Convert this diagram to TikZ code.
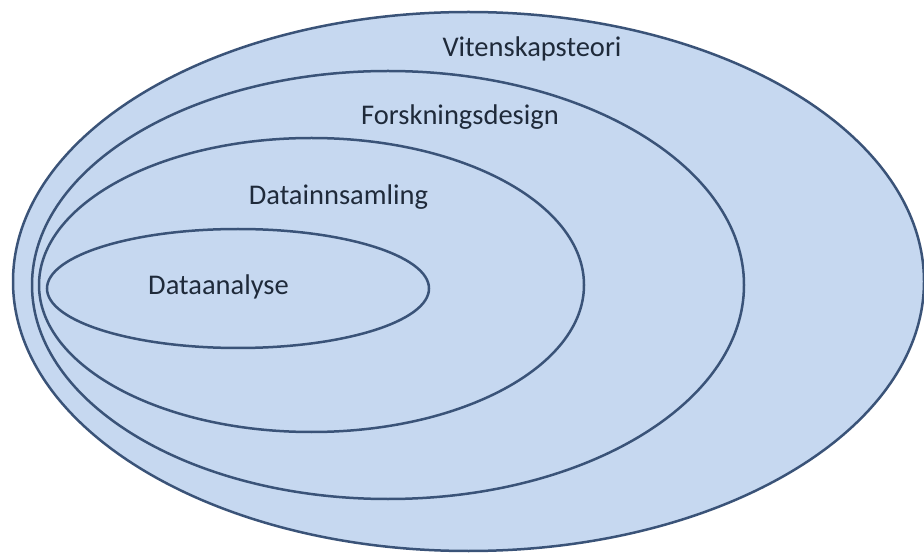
\documentclass[tikz,border=0pt]{standalone}
\usepackage{fontspec}
\setmainfont{Carlito}
\usetikzlibrary{shapes.geometric}
\definecolor{fillblue}{HTML}{C6D8F0}
\definecolor{lineblue}{HTML}{3A5378}
\definecolor{textdark}{HTML}{1F2A3A}
\begin{document}
\begin{tikzpicture}[x=1pt,y=-1pt,
  ring/.style={ellipse, draw=lineblue, fill=fillblue, line width=2.5pt, inner sep=0pt, outer sep=0pt},
  lbl/.style={text=textdark, font=\fontsize{28.5}{34}\selectfont, inner sep=0pt, anchor=base}]
\useasboundingbox (0,0) rectangle (924,553);
\node[ring, minimum width=911pt, minimum height=539pt] (vit) at (468.5,281.5) {};
\node[ring, minimum width=712pt, minimum height=428pt] (fors) at (388,285) {};
\node[ring, minimum width=545pt, minimum height=294pt] (inns) at (311.5,285) {};
\node[ring, minimum width=382pt, minimum height=119pt] (ana) at (238,288.5) {};
\node[lbl] (tvit) at (532,57) {Vitenskapsteori};
\node[lbl] (tfors) at (460,125) {Forskningsdesign};
\node[lbl] (tinns) at (338.5,205) {Datainnsamling};
\node[lbl] (tana) at (218.5,295) {Dataanalyse};
\end{tikzpicture}
\end{document}
